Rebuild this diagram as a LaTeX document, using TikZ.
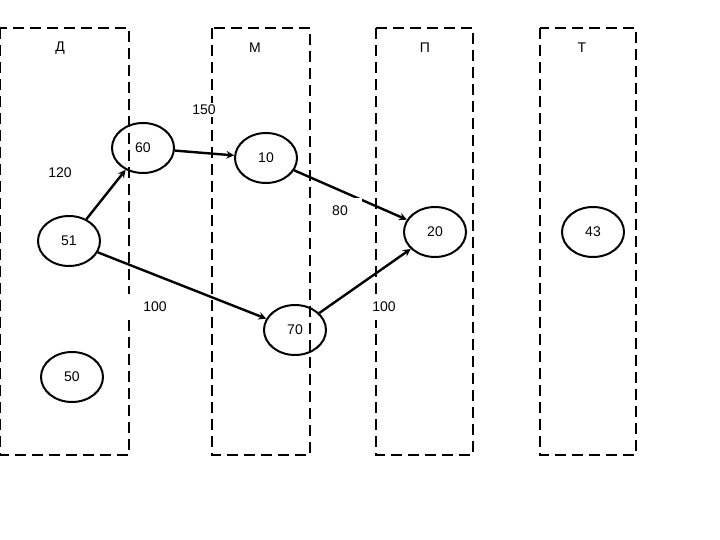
\documentclass[tikz,border=0pt]{standalone}
\usepackage{fontspec}
\setmainfont{Liberation Sans}
\usetikzlibrary{shapes.geometric}
\begin{document}
\begin{tikzpicture}[x=1pt,y=-1pt,
 col/.style={draw,dash pattern=on 11pt off 6pt,line width=2.2pt},
 st/.style={draw,ellipse,line width=2pt,minimum width=62pt,minimum height=50pt,inner sep=0pt,font=\fontsize{14}{16}\selectfont},
 lab/.style={fill=white,inner sep=2pt,font=\fontsize{14}{16}\selectfont},
 hd/.style={font=\fontsize{14}{16}\selectfont},
 ar/.style={->,>=stealth,line width=2.4pt}]
\useasboundingbox (0,0) rectangle (720,540);
\draw[col] (0,28) rectangle (129,455);
\draw[col] (212,28) rectangle (310,455);
\draw[col] (376,28) rectangle (473,455);
\draw[col] (540,28) rectangle (636,455);
\node[hd] (hD) at (60,48) {Д};
\node[hd] (hM) at (255,48) {М};
\node[hd] (hP) at (425,48) {П};
\node[hd] (hT) at (582,48) {Т};
\node[st] (n60) at (143,148) {60};
\node[st] (n10) at (266,158) {10};
\node[st] (n51) at (69,241) {51};
\node[st] (n20) at (435,232) {20};
\node[st] (n43) at (593,232) {43};
\node[st] (n70) at (295,330) {70};
\node[st] (n50) at (72,377) {50};
\draw[ar] (n51) -- (n60);
\draw[ar] (n60) -- (n10);
\draw[ar] (n10) -- (n20);
\draw[ar] (n51) -- (n70);
\draw[ar] (n70) -- (n20);
\node[lab] (l120) at (60,173) {120};
\node[lab] (l150) at (204,110) {150};
\node[lab,minimum width=44pt,minimum height=26pt] (l80) at (340,211) {80};
\node[lab,minimum width=60pt,minimum height=26pt] (l100a) at (155,307) {100};
\node[lab,minimum width=50pt,minimum height=26pt] (l100b) at (378,307) {\hspace*{12pt}100};
\end{tikzpicture}
\end{document}
